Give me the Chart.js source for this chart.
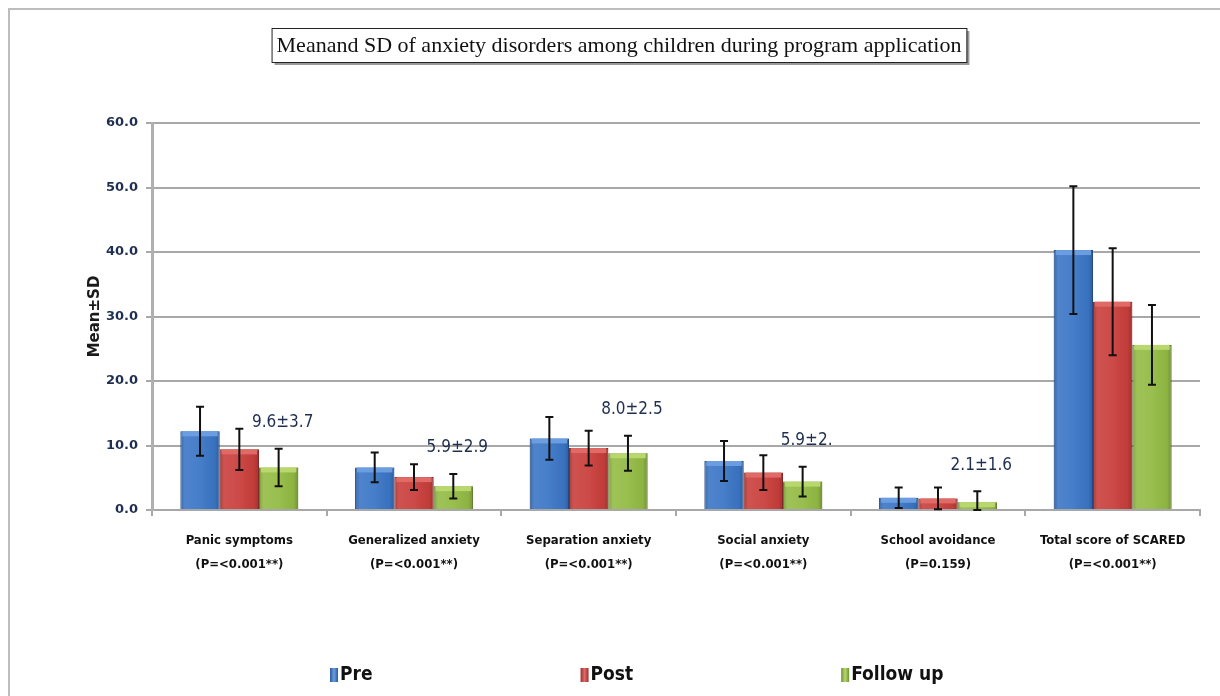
<!DOCTYPE html>
<html>
<head>
<meta charset="utf-8">
<script src="https://cdn.jsdelivr.net/npm/chart.js@4/dist/chart.umd.min.js"></script>
<style>
  html, body { margin: 0; padding: 0; background: #fff; }
  #wrap { width: 1220px; height: 696px; }
</style>
</head>
<body>
<div id="wrap"><canvas id="chart" width="1220" height="696"></canvas></div>
<script>
// Values
const categories = [
    ['Panic symptoms', '(P=<0.001**)'],
    ['Generalized anxiety', '(P=<0.001**)'],
    ['Separation anxiety', '(P=<0.001**)'],
    ['Social anxiety', '(P=<0.001**)'],
    ['School avoidance', '(P=0.159)'],
    ['Total score of SCARED', '(P=<0.001**)']
];
const preMean = [12.2, 6.6, 11.1, 7.6, 1.9, 40.3];
const preSD = [3.8, 2.3, 3.3, 3.1, 1.6, 9.9];
const postMean = [9.4, 5.1, 9.6, 5.8, 1.8, 32.3];
const postSD = [3.2, 2.0, 2.7, 2.7, 1.7, 8.3];
const followMean = [6.6, 3.7, 8.8, 4.4, 1.2, 25.6];
const followSD = [2.9, 1.9, 2.7, 2.3, 1.7, 6.2];
const followLabels = ['9.6\u00b13.7', '5.9\u00b12.9', '8.0\u00b12.5', '5.9\u00b12.', '2.1\u00b11.6', ''];
const yMin = 0, yMax = 60, yStep = 10;
const chartTitle = 'Meanand SD of anxiety disorders among children during program application';

const NARROW = '"Liberation Sans Narrow", "DejaVu Sans Condensed", "Liberation Sans", sans-serif';
const colors = {
    pre: { base: '#3b76c6', dark: '#2b5a9c', light: '#6a9ee0' },
    post: { base: '#c93f3c', dark: '#9c2f2d', light: '#e06a66' },
    follow: { base: '#93bb44', dark: '#6f9330', light: '#b8d86e' }
};

// frame + boxed title
const framePlugin = {
    id: 'frame',
    beforeDraw(chart) {
        const ctx = chart.ctx;
        ctx.save();
        ctx.fillStyle = '#fff';
        ctx.fillRect(0, 0, chart.width, chart.height);
        ctx.strokeStyle = '#bdbdbd';
        ctx.lineWidth = 2;
        ctx.beginPath();
        ctx.moveTo(9, chart.height);
        ctx.lineTo(9, 9);
        ctx.lineTo(chart.width, 9);
        ctx.stroke();

        ctx.font = '22px "Liberation Serif", "DejaVu Serif", serif';
        const w = ctx.measureText(chartTitle).width;
        const cx = 619, cy = 45;
        const bx = cx - w / 2 - 5, by = 28, bw = w + 10, bh = 34;
        ctx.fillStyle = '#9a9a9a';
        ctx.fillRect(bx + 3, by + 3, bw, bh);
        ctx.fillStyle = '#fff';
        ctx.fillRect(bx, by, bw, bh);
        ctx.strokeStyle = '#222';
        ctx.lineWidth = 1;
        ctx.strokeRect(bx + 0.5, by + 0.5, bw, bh);
        ctx.fillStyle = '#111';
        ctx.textAlign = 'center';
        ctx.textBaseline = 'middle';
        ctx.fillText(chartTitle, cx, cy + 1);
        ctx.restore();
    }
};

// bevel shading, error bars, follow-up labels, legend
const extrasPlugin = {
    id: 'extras',
    afterDatasetsDraw(chart) {
        const ctx = chart.ctx;
        const y = chart.scales.y;
        ctx.save();
        chart.data.datasets.forEach((ds, i) => {
            const meta = chart.getDatasetMeta(i);
            meta.data.forEach((bar, j) => {
                const left = bar.x - bar.width / 2;
                const top = Math.min(bar.y, bar.base);
                const h = Math.abs(bar.base - bar.y);
                // side shading
                const g = ctx.createLinearGradient(left, 0, left + bar.width, 0);
                g.addColorStop(0, 'rgba(0,0,0,0.18)');
                g.addColorStop(0.12, 'rgba(255,255,255,0.10)');
                g.addColorStop(0.5, 'rgba(255,255,255,0.06)');
                g.addColorStop(0.88, 'rgba(0,0,0,0.04)');
                g.addColorStop(1, 'rgba(0,0,0,0.22)');
                ctx.fillStyle = g;
                ctx.fillRect(left, top, bar.width, h);
                // top bevel
                const tb = Math.min(5, h);
                ctx.fillStyle = ds.bevel;
                ctx.fillRect(left + 2, top, bar.width - 4, tb);

                // error bar
                const m = ds.data[j], sd = ds.sd[j];
                const yt = y.getPixelForValue(m + sd);
                const yb = y.getPixelForValue(Math.max(m - sd, 0));
                ctx.strokeStyle = '#111';
                ctx.lineWidth = 2;
                ctx.beginPath();
                ctx.moveTo(bar.x, yt); ctx.lineTo(bar.x, yb);
                ctx.moveTo(bar.x - 4, yt); ctx.lineTo(bar.x + 4, yt);
                ctx.moveTo(bar.x - 4, yb); ctx.lineTo(bar.x + 4, yb);
                ctx.stroke();

                if (ds.notes && ds.notes[j]) {
                    ctx.fillStyle = '#1f2f50';
                    ctx.font = '17px ' + NARROW;
                    ctx.textAlign = 'center';
                    ctx.textBaseline = 'middle';
                    ctx.fillText(ds.notes[j], bar.x + 4, yt - 26);
                }
            });
        });

        // legend
        const ly = 675;
        let lx = 330;
        ctx.font = 'bold 19px ' + NARROW;
        ctx.textBaseline = 'middle';
        ctx.textAlign = 'left';
        chart.data.datasets.forEach(ds => {
            const g = ctx.createLinearGradient(lx, 0, lx + 8, 0);
            g.addColorStop(0, ds.borderColor);
            g.addColorStop(0.5, ds.bevel);
            g.addColorStop(1, ds.borderColor);
            ctx.fillStyle = g;
            ctx.fillRect(lx, ly - 7, 8, 14);
            ctx.fillStyle = '#111';
            ctx.fillText(ds.label, lx + 10, ly);
            lx += 10 + ctx.measureText(ds.label).width + 208;
        });
        ctx.restore();
    }
};

new Chart(document.getElementById('chart'), {
    type: 'bar',
    data: {
        labels: categories,
        datasets: [
            { label: 'Pre', data: preMean, sd: preSD, backgroundColor: colors.pre.base, borderColor: colors.pre.dark, bevel: colors.pre.light, borderWidth: 1 },
            { label: 'Post', data: postMean, sd: postSD, backgroundColor: colors.post.base, borderColor: colors.post.dark, bevel: colors.post.light, borderWidth: 1 },
            { label: 'Follow up', data: followMean, sd: followSD, notes: followLabels, backgroundColor: colors.follow.base, borderColor: colors.follow.dark, bevel: colors.follow.light, borderWidth: 1 }
        ]
    },
    options: {
        responsive: false,
        animation: false,
        categoryPercentage: 0.675,
        barPercentage: 1.0,
        layout: { padding: { top: 123, left: 20, right: 20, bottom: 116 } },
        plugins: {
            legend: { display: false },
            title: { display: false },
            tooltip: { enabled: false }
        },
        scales: {
            x: {
                grid: { offset: true, drawOnChartArea: false, tickLength: 6, color: '#a8a8a8', lineWidth: 2 },
                border: { color: '#a8a8a8', width: 2 },
                ticks: {
                    color: '#111',
                    font: { family: NARROW, size: 13, weight: 'bold', lineHeight: 1.9 },
                    padding: 12,
                    maxRotation: 0,
                    autoSkip: false
                },
                afterFit(scale) { scale.height = 70; }
            },
            y: {
                min: yMin,
                max: yMax,
                ticks: {
                    stepSize: yStep,
                    color: '#1f2f50',
                    padding: 8,
                    font: { family: '"DejaVu Sans", sans-serif', size: 13, weight: 'bold' },
                    callback: v => v.toFixed(1)
                },
                grid: { color: '#a8a8a8', lineWidth: 2, tickLength: 6 },
                border: { color: '#b0b0b0', width: 3 },
                title: {
                    display: true,
                    text: 'Mean\u00b1SD',
                    color: '#1a1a1a',
                    font: { family: '"DejaVu Sans", sans-serif', size: 15, weight: 'bold' },
                    padding: { top: 66, bottom: 0 }
                },
                afterFit(scale) { scale.width = 132; }
            }
        }
    },
    plugins: [framePlugin, extrasPlugin]
});
</script>
</body>
</html>
